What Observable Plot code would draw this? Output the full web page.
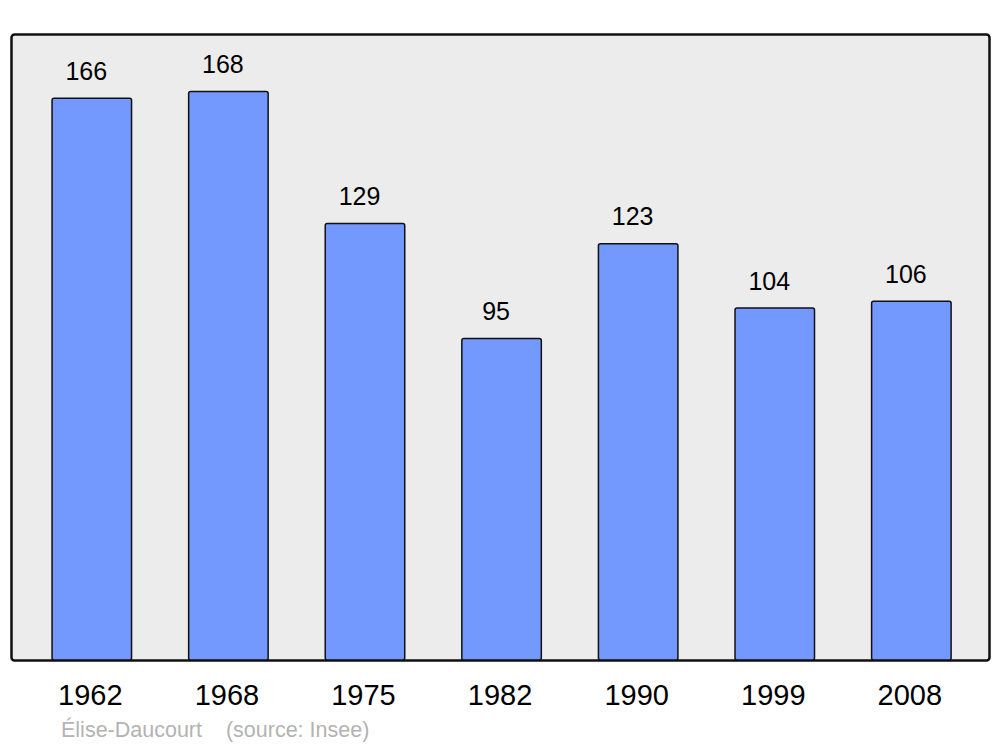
<!DOCTYPE html>
<html>
<head>
<meta charset="utf-8">
<script src="https://cdn.jsdelivr.net/npm/d3@7"></script>
<script src="https://cdn.jsdelivr.net/npm/@observablehq/plot@0.6"></script>
<style>
  html, body { margin: 0; padding: 0; background: #ffffff; }
  #wrap { position: relative; width: 1000px; height: 747px; }
  #caption { position: absolute; left: 61px; top: 720px; font-family: "Liberation Sans", Arial, sans-serif; font-size: 21.5px; line-height: 20px; color: #b3b3b3; white-space: pre; }
</style>
</head>
<body>
<div id="wrap"><div id="chart"></div><div id="caption">Élise-Daucourt    (source: Insee)</div></div>
<script>
const years = ["1962", "1968", "1975", "1982", "1990", "1999", "2008"];
const population = [166, 168, 129, 95, 123, 104, 106];

const data = years.map((y, i) => ({year: y, pop: population[i]}));

const chart = Plot.plot({
  width: 1000,
  height: 720,
  marginLeft: 11,
  marginRight: 11,
  marginTop: 34,
  marginBottom: 60,
  style: {fontFamily: "'Liberation Sans', Arial, sans-serif", background: "white"},
  x: {domain: years, paddingInner: 0.418, paddingOuter: 0.289, align: 0.52, round: false, label: null},
  y: {domain: [0, 185], axis: null},
  marks: [
    Plot.frame({fill: "#ececec", stroke: "#111", strokeWidth: 2.5, rx: 3}),
    Plot.barY(data, {x: "year", y: "pop", fill: "#7399ff", stroke: "#111", strokeWidth: 1.5, rx: 2, inset: 0}),
    Plot.text(data, {x: "year", y: "pop", text: d => String(d.pop), dy: -27, dx: -6, fontSize: 25, fill: "black"}),
    Plot.axisX({tickSize: 0, tickPadding: 24, dx: -2, fontSize: 29, fill: "black", label: null})
  ]
});
document.getElementById("chart").appendChild(chart);
</script>
</body>
</html>
